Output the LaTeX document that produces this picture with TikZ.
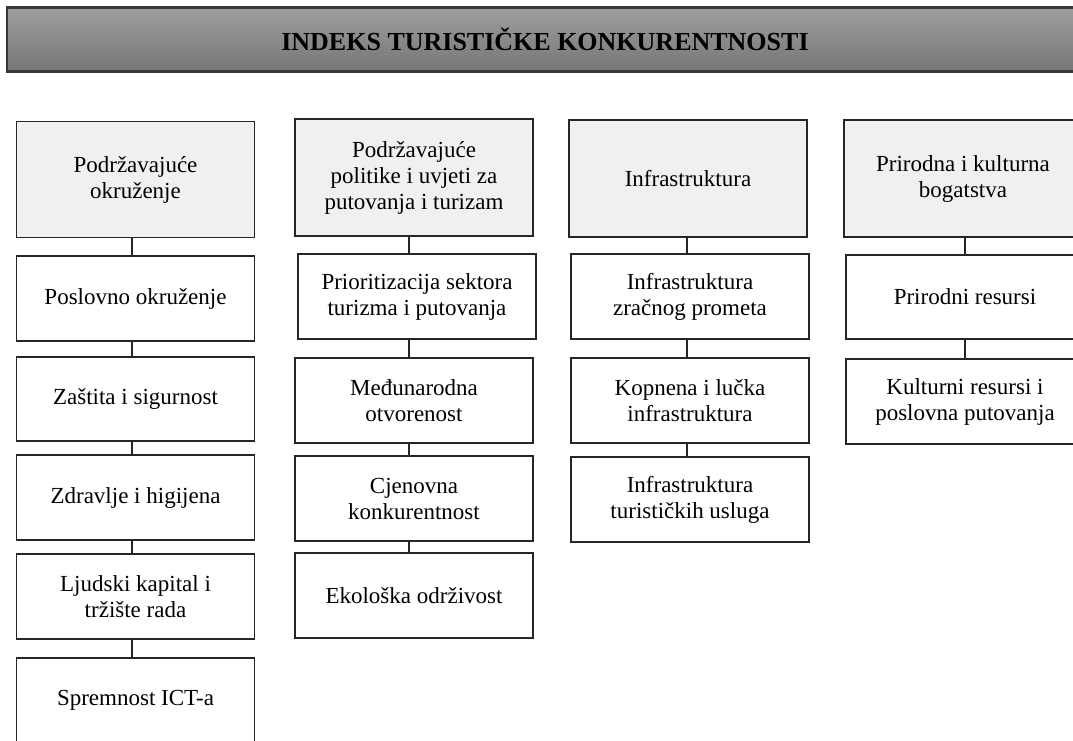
\documentclass[tikz,border=0pt]{standalone}
\usepackage{fontspec}
\setmainfont{Liberation Serif}
\definecolor{boxline}{HTML}{262626}
\definecolor{headfill}{HTML}{F0F0F0}
\definecolor{bartop}{HTML}{9E9E9E}
\definecolor{barbot}{HTML}{767676}
\definecolor{barline}{HTML}{383838}
\begin{document}
\begin{tikzpicture}[x=1pt,y=-1pt,
  box/.style={draw=boxline, line width=1.8pt, fill=white, minimum width=238pt,
    minimum height=85pt, inner sep=2pt, align=center,
    font=\fontsize{23}{26}\selectfont, text=black},
  head/.style={box, fill=headfill, minimum height=116pt},
  link/.style={draw=boxline, line width=1.8pt},
  titlebar/.style={draw=barline, line width=2.6pt, top color=bartop, bottom color=barbot,
    minimum width=1076pt, minimum height=64.4pt, inner sep=0pt,
    font=\bfseries\fontsize{26}{30}\selectfont, text=black}]
\useasboundingbox (0,0) rectangle (1073,740);
\clip (0,0) rectangle (1073,740);

\node[titlebar] (title) at (545,39.5) {INDEKS TURISTIČKE KONKURENTNOSTI};

% column 1
\node[head] (h1) at (135.5,179.5) {Podržavajuće\\okruženje};
\node[box] (a1) at (135.5,298.5) {Poslovno okruženje};
\node[box, minimum height=84pt] (a2) at (135.5,399) {Zaštita i sigurnost};
\node[box] (a3) at (135.5,497.5) {Zdravlje i higijena};
\node[box] (a4) at (135.5,596.5) {Ljudski kapital i\\tržište rada};
\node[box] (a5) at (135.5,700.5) {Spremnost ICT-a};

% column 2
\node[head, minimum height=117pt] (h2) at (414,177.5) {Podržavajuće\\politike i uvjeti za\\putovanja i turizam};
\node[box] (b1) at (417,296.5) {Prioritizacija sektora\\turizma i putovanja};
\node[box] (b2) at (414,400.5) {Međunarodna\\otvorenost};
\node[box] (b3) at (414,498.5) {Cjenovna\\konkurentnost};
\node[box] (b4) at (414,595.5) {Ekološka održivost};

% column 3
\node[head, minimum height=117pt] (h3) at (688,178.5) {Infrastruktura};
\node[box] (c1) at (690,296.5) {Infrastruktura\\zračnog prometa};
\node[box] (c2) at (690,400.5) {Kopnena i lučka\\infrastruktura};
\node[box] (c3) at (690,499.5) {Infrastruktura\\turističkih usluga};

% column 4
\node[head, minimum height=117pt] (h4) at (963,178.5) {Prirodna i kulturna\\bogatstva};
\node[box, minimum height=84pt] (d1) at (965,297) {Prirodni resursi};
\node[box] (d2) at (965,401.5) {Kulturni resursi i\\poslovna putovanja};

% connector lines
\coordinate (x1) at (131.7,0);
\coordinate (x2) at (409,0);
\coordinate (x3) at (687,0);
\coordinate (x4) at (965,0);
\draw[link] (h1.south -| x1) -- (a1.north -| x1);
\draw[link] (a1.south -| x1) -- (a2.north -| x1);
\draw[link] (a2.south -| x1) -- (a3.north -| x1);
\draw[link] (a3.south -| x1) -- (a4.north -| x1);
\draw[link] (a4.south -| x1) -- (a5.north -| x1);
\draw[link] (h2.south -| x2) -- (b1.north -| x2);
\draw[link] (b1.south -| x2) -- (b2.north -| x2);
\draw[link] (b2.south -| x2) -- (b3.north -| x2);
\draw[link] (b3.south -| x2) -- (b4.north -| x2);
\draw[link] (h3.south -| x3) -- (c1.north -| x3);
\draw[link] (c1.south -| x3) -- (c2.north -| x3);
\draw[link] (c2.south -| x3) -- (c3.north -| x3);
\draw[link] (h4.south -| x4) -- (d1.north -| x4);
\draw[link] (d1.south -| x4) -- (d2.north -| x4);
\end{tikzpicture}
\end{document}
